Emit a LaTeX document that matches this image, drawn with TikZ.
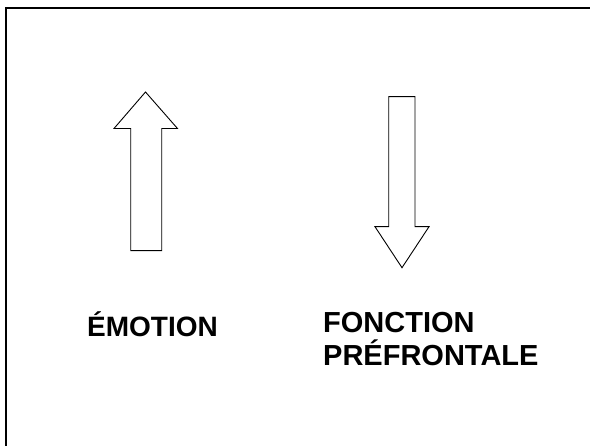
\documentclass[tikz,border=0pt]{standalone}
\usepackage{fontspec}
\setmainfont{Liberation Sans}
\begin{document}
\begin{tikzpicture}[x=1pt,y=-1pt,
  frameline/.style={line width=2pt,black},
  bigarrow/.style={draw=black,line width=0.9pt,fill=white,line join=miter},
  label/.style={anchor=base west,inner sep=0pt,font=\fontsize{29}{34}\selectfont\bfseries}]
\useasboundingbox (0,0) rectangle (590,446);
% frame (only top and left edges visible)
\draw[frameline] (6,447) -- (6,8) -- (592,8);
% up arrow
\draw[bigarrow] (145.5,92) -- (177.5,128.5) -- (161.7,128.5) -- (161.7,250.7)
  -- (130.7,250.7) -- (130.7,128.5) -- (114,128.5) -- cycle;
% down arrow
\draw[bigarrow] (388.7,96.7) -- (415,96.7) -- (415,226.7) -- (429,226.7)
  -- (402,267.7) -- (375,226.7) -- (388.7,226.7) -- cycle;
% labels
\node[label,font=\fontsize{28}{33}\selectfont\bfseries] (emotion) at (87,337) {ÉMOTION};
\node[label] (fonction) at (323,332.5) {FONCTION};
\node[label] (prefrontale) at (323,366) {PRÉFRONTALE};
\end{tikzpicture}
\end{document}
